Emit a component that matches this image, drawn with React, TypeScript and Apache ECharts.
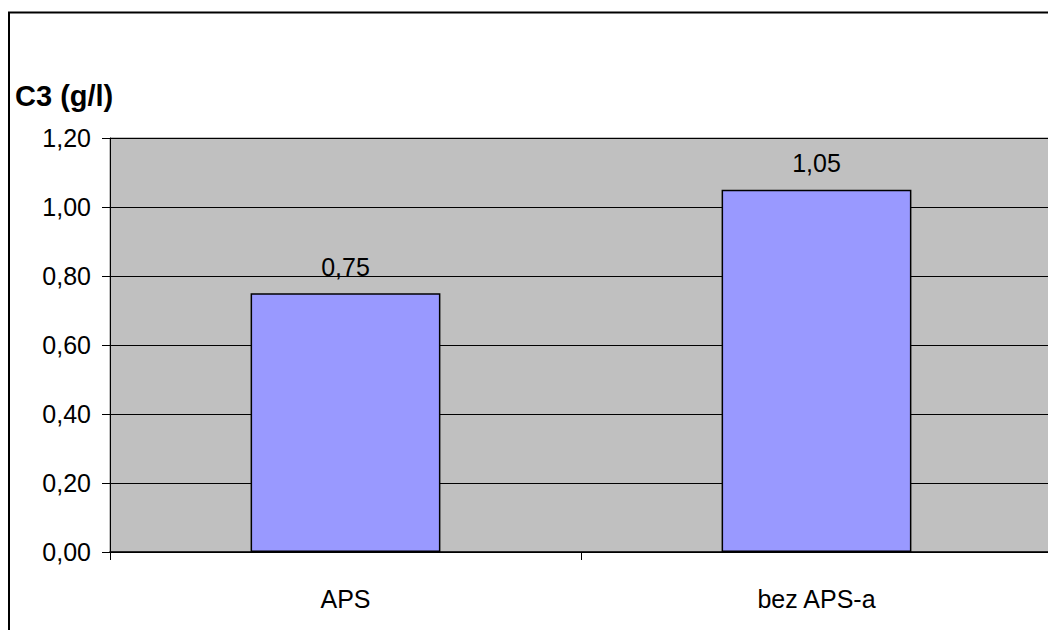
import React, { useEffect, useRef } from "react";
import * as echarts from "echarts";

const categories = ["APS", "bez APS-a"];
const values = [0.75, 1.05];
const yTitle = "C3 (g/l)";

const fmt = (v: number) => v.toFixed(2).replace(".", ",");

export default function App() {
  const ref = useRef<HTMLDivElement>(null);
  useEffect(() => {
    if (!ref.current) return;
    const chart = echarts.init(ref.current, null, { renderer: "svg" });
    const font = "'Liberation Sans', Arial, sans-serif";
    chart.setOption({
      animation: false,
      backgroundColor: "#ffffff",
      textStyle: { fontFamily: font },
      grid: {
        left: 102,
        top: 130,
        right: 4,
        bottom: 78,
        show: true,
        backgroundColor: "#C0C0C0",
        borderColor: "#808080",
        borderWidth: 1,
      },
      graphic: [
        {
          type: "rect",
          shape: { x: 1, y: 4.5, width: 3000, height: 3000 },
          style: { fill: "none", stroke: "#000", lineWidth: 2 },
          silent: true,
        },
        {
          type: "text",
          left: 7,
          top: 73,
          style: {
            text: yTitle,
            fontFamily: font,
            fontWeight: "bold",
            fontSize: 29,
            fill: "#000",
          },
        },
      ],
      xAxis: {
        type: "category",
        data: categories,
        boundaryGap: true,
        axisLine: { show: true, lineStyle: { color: "#000", width: 1.5 } },
        axisTick: { show: true, length: 8, lineStyle: { color: "#000" }, alignWithLabel: false },
        axisLabel: { color: "#000", fontSize: 25, margin: 34, fontFamily: font },
      },
      yAxis: {
        type: "value",
        min: 0,
        max: 1.2,
        interval: 0.2,
        axisLine: { show: true, lineStyle: { color: "#000", width: 1 } },
        axisTick: { show: true, length: 8, lineStyle: { color: "#000" } },
        axisLabel: {
          color: "#000",
          fontSize: 25,
          margin: 19,
          fontFamily: font,
          formatter: (v: number) => fmt(v),
        },
        splitLine: { show: true, lineStyle: { color: "#000", width: 1 } },
      },
      series: [
        {
          type: "bar",
          data: values,
          barWidth: "40.3%",
          itemStyle: { color: "#9999FF", borderColor: "#000", borderWidth: 1.5 },
          label: {
            show: true,
            position: "top",
            distance: 14,
            color: "#000",
            fontSize: 25,
            fontFamily: font,
            formatter: (p: any) => fmt(p.value),
          },
        },
      ],
    });
    return () => chart.dispose();
  }, []);
  return <div ref={ref} style={{ width: 1048, height: 622 }} />;
}
